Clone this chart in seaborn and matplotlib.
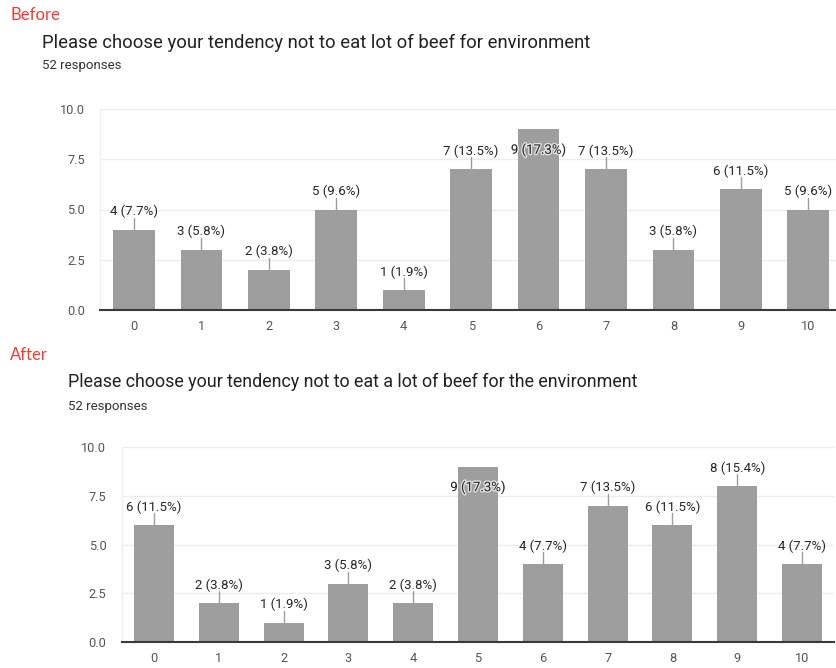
import numpy as np
import pandas as pd
import seaborn as sns
import matplotlib
matplotlib.use("Agg")
import matplotlib.pyplot as plt
from matplotlib import patheffects

# Survey results: 0-10 scale, counts of responses
scale = [str(i) for i in range(11)]
before_counts = [4, 3, 2, 5, 1, 7, 9, 7, 3, 6, 5]
after_counts = [6, 2, 1, 3, 2, 9, 4, 7, 6, 8, 4]
n_responses = 52

before_title = "Please choose your tendency not to eat lot of beef for environment"
after_title = "Please choose your tendency not to eat a lot of beef for the environment"
y_ticks = [0.0, 2.5, 5.0, 7.5, 10.0]

sns.set_theme(style="white")
plt.rcParams["font.family"] = ["Roboto", "DejaVu Sans"]

W, H = 836, 668
fig = plt.figure(figsize=(W / 100, H / 100), dpi=100)


def px_rect(left, right, top, bottom):
    return [left / W, (H - bottom) / H, (right - left) / W, (bottom - top) / H]


BAR = "#9e9e9e"
INK = "#262626"
TICK = "#555555"
LABEL_SIZE = 9.5


def draw_panel(rect, counts):
    ax = fig.add_axes(rect)
    df = pd.DataFrame({"score": scale, "count": counts})
    sns.barplot(data=df, x="score", y="count", order=scale, color=BAR,
                saturation=1, width=0.62, ax=ax, edgecolor="none")
    ax.set_xlim(-0.5, 10.5)
    ax.set_ylim(0, 10)
    ax.set_yticks(y_ticks)
    ax.set_yticklabels([f"{t:.1f}" for t in y_ticks])
    ax.set_xlabel("")
    ax.set_ylabel("")
    ax.grid(axis="y", color="#ececec", linewidth=1)
    ax.set_axisbelow(True)
    for s in ("top", "right"):
        ax.spines[s].set_visible(False)
    ax.spines["left"].set_color("#f0f0f0")
    ax.spines["left"].set_linewidth(1)
    ax.spines["bottom"].set_color("#3a3a3a")
    ax.spines["bottom"].set_linewidth(1.5)
    ax.spines["bottom"].set_zorder(5)
    ax.tick_params(axis="both", length=0, labelsize=9.2, labelcolor=TICK)
    ax.tick_params(axis="y", pad=11)
    ax.tick_params(axis="x", pad=7)

    # pixels per data unit for label placement
    ppu = rect[3] * H / 10.0
    halo = [patheffects.withStroke(linewidth=2, foreground=(1, 1, 1, 0.7))]
    for i, v in enumerate(counts):
        label = f"{v} ({v / n_responses * 100:.1f}%)"
        room = (10 - v) * ppu
        if room < 24:
            ax.annotate(label, (i, v), xytext=(0, -21 / 1.389),
                        textcoords="offset points", ha="center", va="center",
                        fontsize=LABEL_SIZE, color=INK, path_effects=halo,
                        zorder=6)
        else:
            ax.annotate(label, (i, v), xytext=(0, 18 / 1.389),
                        textcoords="offset points", ha="center", va="center",
                        fontsize=LABEL_SIZE, color=INK, zorder=6)
            ax.plot([i, i], [v, v + 12 / ppu], color="#9e9e9e",
                    linewidth=1, zorder=4)
    return ax


draw_panel(px_rect(100.3, 842, 109, 310), before_counts)
draw_panel(px_rect(121.6, 834.4, 447, 642), after_counts)

RED = "#f03c32"


def ftext(x, y, s, **kw):
    fig.text(x / W, 1 - y / H, s, va="center", ha="left", **kw)


ftext(10, 15, "Before", fontsize=12, color=RED, family=["Lato", "DejaVu Sans"])
ftext(42, 43, before_title, fontsize=13.3, color="#202124")
ftext(42, 66, f"{n_responses} responses", fontsize=9.5, color="#333333")

ftext(10, 355, "After", fontsize=12, color=RED, family=["Lato", "DejaVu Sans"])
ftext(68, 382, after_title, fontsize=12.9, color="#202124")
ftext(68, 407, f"{n_responses} responses", fontsize=9.5, color="#333333")

fig.savefig("out.png", dpi=100, facecolor="white")
